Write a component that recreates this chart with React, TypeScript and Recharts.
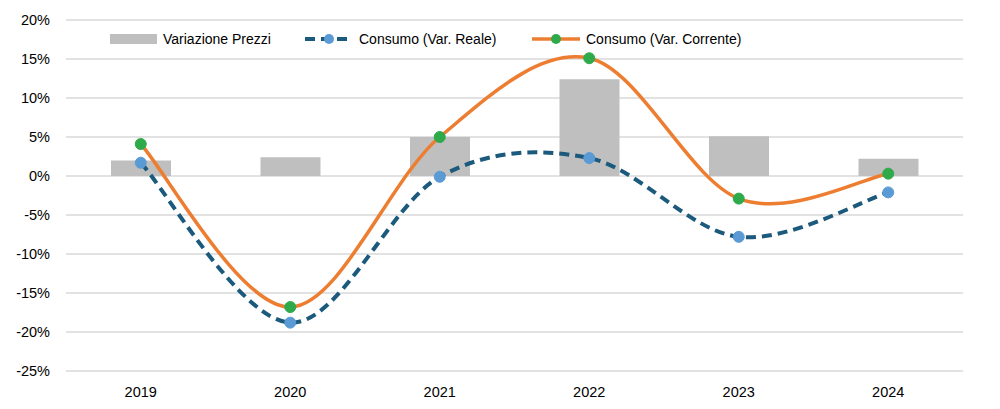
import React from "react";
import {
  ComposedChart,
  Bar,
  Line,
  XAxis,
  YAxis,
  CartesianGrid,
} from "recharts";

const years = ["2019", "2020", "2021", "2022", "2023", "2024"];
const variazionePrezzi = [2.0, 2.4, 5.0, 12.4, 5.1, 2.2];
const consumoReale = [1.7, -18.8, -0.1, 2.3, -7.8, -2.1];
const consumoCorrente = [4.1, -16.8, 5.0, 15.1, -2.9, 0.3];
const yTicks = [-25, -20, -15, -10, -5, 0, 5, 10, 15, 20];

const data = years.map((year, i) => ({
  year,
  prezzi: variazionePrezzi[i],
  reale: consumoReale[i],
  corrente: consumoCorrente[i],
}));

// Excel-style smoothed line (Catmull-Rom through the points)
const excelCurve = (context: any) => {
  let pts: [number, number][] = [];
  return {
    areaStart() {},
    areaEnd() {},
    lineStart() {
      pts = [];
    },
    point(x: number, y: number) {
      pts.push([x, y]);
    },
    lineEnd() {
      if (!pts.length) return;
      context.moveTo(pts[0][0], pts[0][1]);
      for (let i = 0; i < pts.length - 1; i++) {
        const p0 = pts[i - 1] || pts[i];
        const p1 = pts[i];
        const p2 = pts[i + 1];
        const p3 = pts[i + 2] || p2;
        context.bezierCurveTo(
          p1[0] + (p2[0] - p0[0]) / 6,
          p1[1] + (p2[1] - p0[1]) / 6,
          p2[0] - (p3[0] - p1[0]) / 6,
          p2[1] - (p3[1] - p1[1]) / 6,
          p2[0],
          p2[1]
        );
      }
    },
  };
};

const font = "'Liberation Sans', Arial, sans-serif";

const LegendOverlay = () => (
  <svg
    width={700}
    height={24}
    style={{ position: "absolute", left: 110, top: 27, overflow: "visible" }}
  >
    <rect x={0} y={7} width={47} height={10} fill="#bfbfbf" />
    <text x={53} y={17} fontSize={14} fontFamily={font} fill="#000">
      Variazione Prezzi
    </text>
    <line x1={195} y1={12} x2={243} y2={12} stroke="#1b5a7c" strokeWidth={4} strokeDasharray="10 6" />
    <circle cx={219} cy={12} r={5} fill="#5b9bd5" />
    <text x={249} y={17} fontSize={14} fontFamily={font} fill="#000">
      Consumo (Var. Reale)
    </text>
    <line x1={422} y1={12} x2={470} y2={12} stroke="#ed7d31" strokeWidth={3.5} />
    <circle cx={446} cy={12} r={5} fill="#2eaa4a" />
    <text x={476} y={17} fontSize={14} fontFamily={font} fill="#000">
      Consumo (Var. Corrente)
    </text>
  </svg>
);

export default function App() {
  return (
    <div style={{ position: "absolute", left: 0, top: 0, width: 1000, height: 409, background: "#fff" }}>
      <ComposedChart
        width={1000}
        height={409}
        data={data}
        margin={{ top: 20, right: 37, left: 0, bottom: 0 }}
      >
        <CartesianGrid vertical={false} stroke="#d9d9d9" strokeWidth={1.5} />
        <XAxis
          dataKey="year"
          axisLine={false}
          tickLine={false}
          height={38}
          tick={{ fontSize: 14.5, fontFamily: font, fill: "#000" }}
          dy={8}
        />
        <YAxis
          width={66}
          domain={[-25, 20]}
          ticks={yTicks}
          interval={0}
          axisLine={false}
          tickLine={false}
          tickFormatter={(v) => `${v}%`}
          tick={{ fontSize: 14.5, fontFamily: font, fill: "#000" }}
          dx={-8}
        />
        <Bar
          dataKey="prezzi"
          name="Variazione Prezzi"
          fill="#bfbfbf"
          barSize={60}
          isAnimationActive={false}
        />
        <Line
          dataKey="reale"
          name="Consumo (Var. Reale)"
          type={excelCurve as any}
          stroke="#1b5a7c"
          strokeWidth={4}
          strokeDasharray="10 6"
          dot={{ r: 5.5, fill: "#5b9bd5", stroke: "#5b9bd5", strokeWidth: 1, strokeDasharray: "" }}
          activeDot={false}
          isAnimationActive={false}
        />
        <Line
          dataKey="corrente"
          name="Consumo (Var. Corrente)"
          type={excelCurve as any}
          stroke="#ed7d31"
          strokeWidth={3.5}
          dot={{ r: 5.5, fill: "#2eaa4a", stroke: "#2eaa4a", strokeWidth: 1 }}
          activeDot={false}
          isAnimationActive={false}
        />
      </ComposedChart>
      <LegendOverlay />
    </div>
  );
}
